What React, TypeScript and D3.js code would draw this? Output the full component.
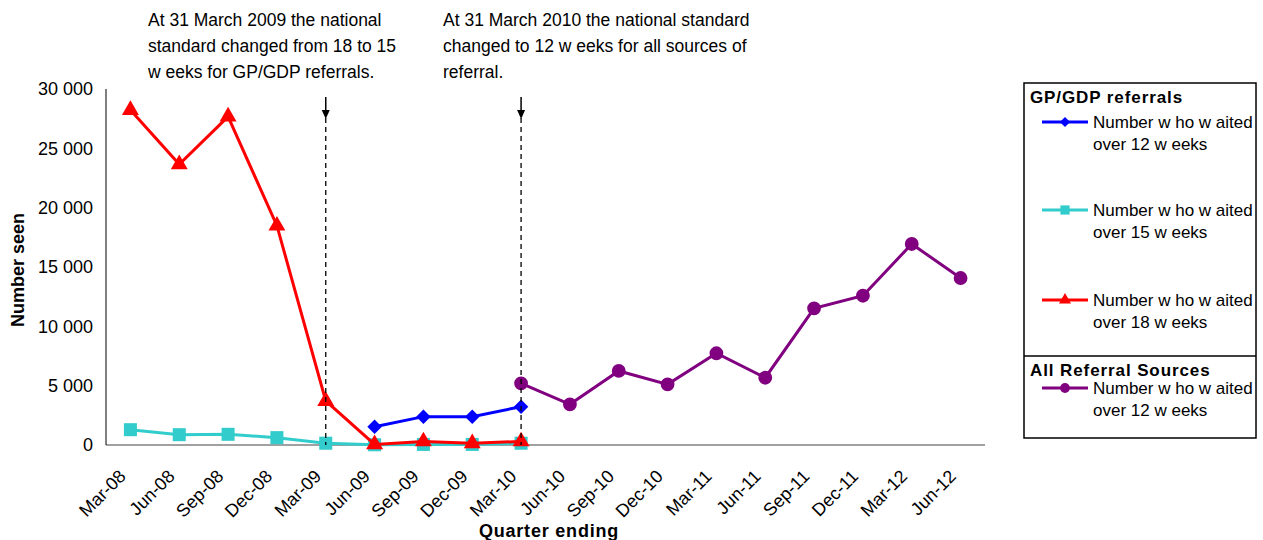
import React, { useEffect, useRef } from 'react'
import * as d3 from 'd3'

const quarters = [
    'Mar-08', 'Jun-08', 'Sep-08', 'Dec-08', 'Mar-09', 'Jun-09', 'Sep-09', 'Dec-09', 'Mar-10',
    'Jun-10', 'Sep-10', 'Dec-10', 'Mar-11', 'Jun-11', 'Sep-11', 'Dec-11', 'Mar-12', 'Jun-12',
]
const over12Gp = [null, null, null, null, null, 1540, 2390, 2390, 3230, null, null, null, null, null, null, null, null, null]
const over15Gp = [1290, 870, 900, 620, 150, 20, 50, 50, 150, null, null, null, null, null, null, null, null, null]
const over18Gp = [28230, 23650, 27670, 18480, 3710, 50, 300, 150, 300, null, null, null, null, null, null, null, null, null]
const over12All = [null, null, null, null, null, null, null, null, 5200, 3430, 6240, 5110, 7730, 5670, 11520, 12580, 16940, 14070]
const yTicks = [0, 5000, 10000, 15000, 20000, 25000, 30000]
const changeQuarters = ['Mar-09', 'Mar-10']

const note1 = ['At 31 March 2009 the national', 'standard changed from 18 to 15', 'w eeks for GP/GDP referrals.']
const note2 = ['At 31 March 2010 the national standard', 'changed to 12 w eeks for all sources of', 'referral.']

const FONT = 'Liberation Sans, Arial, sans-serif'

const series = [
    { key: 'c15', values: over15Gp, color: '#33CCCC', symbol: d3.symbolSquare, size: 170, rot: 0 },
    { key: 'r18', values: over18Gp, color: '#FF0000', symbol: d3.symbolTriangle, size: 125, rot: 0 },
    { key: 'b12', values: over12Gp, color: '#0000FF', symbol: d3.symbolSquare, size: 105, rot: 45 },
    { key: 'p12', values: over12All, color: '#800080', symbol: d3.symbolCircle, size: 150, rot: 0 },
]

const legendGroups = [
    { title: 'GP/GDP referrals', y: 97 },
    { title: 'All Referral Sources', y: 370 },
]
const legendItems = [
    { key: 'b12', label: ['Number w ho w aited', 'over 12 w eeks'], y: 122 },
    { key: 'c15', label: ['Number w ho w aited', 'over 15 w eeks'], y: 210 },
    { key: 'r18', label: ['Number w ho w aited', 'over 18 w eeks'], y: 300 },
    { key: 'p12', label: ['Number w ho w aited', 'over 12 w eeks'], y: 388 },
]

const width = 1263
const height = 540
const plot = { left: 106, right: 985, top: 89, bottom: 445 }

export default function App() {
    const svgRef = useRef<SVGSVGElement | null>(null)

    useEffect(() => {
        const svg = d3.select(svgRef.current)
        svg.selectAll('*').remove()

        const x = d3.scalePoint<string>().domain(quarters).range([plot.left, plot.right]).padding(0.5)
        const y = d3.scaleLinear().domain([0, 30000]).range([plot.bottom, plot.top])

        // y tick labels
        svg.append('g')
            .selectAll('text')
            .data(yTicks)
            .join('text')
            .attr('x', 93)
            .attr('y', (d) => y(d))
            .attr('dy', '0.35em')
            .attr('text-anchor', 'end')
            .attr('font-family', FONT)
            .attr('font-size', 18)
            .text((d) => d3.format(',')(d).replace(',', ' '))

        // x tick labels
        svg.append('g')
            .selectAll('text')
            .data(quarters)
            .join('text')
            .attr('transform', (d) => `translate(${x(d)! - 8}, 473) rotate(-45)`)
            .attr('dy', '0.35em')
            .attr('text-anchor', 'end')
            .attr('font-family', FONT)
            .attr('font-size', 18)
            .text((d) => d)

        // axes
        svg.append('line')
            .attr('x1', plot.left).attr('x2', plot.right)
            .attr('y1', plot.bottom).attr('y2', plot.bottom)
            .attr('stroke', '#808080').attr('stroke-width', 1.5)
        svg.append('line')
            .attr('x1', plot.left).attr('x2', plot.left)
            .attr('y1', plot.top).attr('y2', plot.bottom)
            .attr('stroke', '#000').attr('stroke-width', 1)

        // series
        const line = d3.line<number | null>()
            .defined((d) => d !== null)
            .x((_, i) => x(quarters[i])!)
            .y((d) => y(d as number))

        series.forEach((s) => {
            const g = svg.append('g')
            g.append('path')
                .datum(s.values)
                .attr('d', line)
                .attr('fill', 'none')
                .attr('stroke', s.color)
                .attr('stroke-width', 3)
            g.selectAll('path.m')
                .data(s.values.map((v, i) => ({ v, q: quarters[i] })).filter((d) => d.v !== null))
                .join('path')
                .attr('class', 'm')
                .attr('transform', (d) => `translate(${x(d.q)}, ${y(d.v as number)}) rotate(${s.rot})`)
                .attr('d', d3.symbol().type(s.symbol).size(s.size)())
                .attr('fill', s.color)
        })

        // standard change markers
        changeQuarters.forEach((q) => {
            const cx = x(q)!
            svg.append('line')
                .attr('x1', cx).attr('x2', cx)
                .attr('y1', 118).attr('y2', plot.bottom)
                .attr('stroke', '#000').attr('stroke-width', 1.3)
                .attr('stroke-dasharray', '5,4')
            svg.append('line')
                .attr('x1', cx).attr('x2', cx)
                .attr('y1', 97).attr('y2', 112)
                .attr('stroke', '#000').attr('stroke-width', 1.5)
            svg.append('path')
                .attr('d', `M${cx - 4},${110} L${cx + 4},${110} L${cx},${119} Z`)
                .attr('fill', '#000')
        })

        // annotations
        const notes = [
            { lines: note1, x: 148 },
            { lines: note2, x: 443 },
        ]
        notes.forEach((n) => {
            svg.append('text')
                .attr('font-family', FONT)
                .attr('font-size', 17.5)
                .selectAll('tspan')
                .data(n.lines)
                .join('tspan')
                .attr('x', n.x)
                .attr('y', (_, i) => 26 + i * 26)
                .text((d) => d)
        })

        // axis titles
        svg.append('text')
            .attr('transform', `translate(24, 270) rotate(-90)`)
            .attr('text-anchor', 'middle')
            .attr('font-family', FONT)
            .attr('font-size', 18)
            .attr('font-weight', 'bold')
            .text('Number seen')
        svg.append('text')
            .attr('x', 549)
            .attr('y', 537)
            .attr('text-anchor', 'middle')
            .attr('font-family', FONT)
            .attr('font-size', 18)
            .attr('font-weight', 'bold')
            .attr('letter-spacing', 0.8)
            .text('Quarter ending')

        // legend
        const lg = svg.append('g')
        lg.append('rect')
            .attr('x', 1024).attr('y', 83).attr('width', 232).attr('height', 355)
            .attr('fill', '#fff').attr('stroke', '#000').attr('stroke-width', 1.5)
        lg.append('line')
            .attr('x1', 1024).attr('x2', 1256).attr('y1', 356).attr('y2', 356)
            .attr('stroke', '#000').attr('stroke-width', 1.5)
        legendGroups.forEach((t) => {
            lg.append('text')
                .attr('x', 1030).attr('y', t.y).attr('dy', '0.35em')
                .attr('font-family', FONT).attr('font-size', 17).attr('font-weight', 'bold')
                .attr('letter-spacing', 0.9)
                .text(t.title)
        })
        legendItems.forEach((it) => {
            const s = series.find((d) => d.key === it.key)!
            lg.append('line')
                .attr('x1', 1042).attr('x2', 1088).attr('y1', it.y).attr('y2', it.y)
                .attr('stroke', s.color).attr('stroke-width', 3)
            lg.append('path')
                .attr('transform', `translate(1065, ${it.y}) rotate(${s.rot})`)
                .attr('d', d3.symbol().type(s.symbol).size(s.size * 0.5)())
                .attr('fill', s.color)
            lg.append('text')
                .attr('font-family', FONT).attr('font-size', 17)
                .selectAll('tspan')
                .data(it.label)
                .join('tspan')
                .attr('x', 1093)
                .attr('y', (_, i) => it.y + i * 22)
                .attr('dy', '0.35em')
                .text((d) => d)
        })
    }, [])

    return (
        <svg
            ref={svgRef}
            width={width}
            height={height}
            style={{ position: 'absolute', left: 0, top: 0, background: '#fff' }}
        />
    )
}
